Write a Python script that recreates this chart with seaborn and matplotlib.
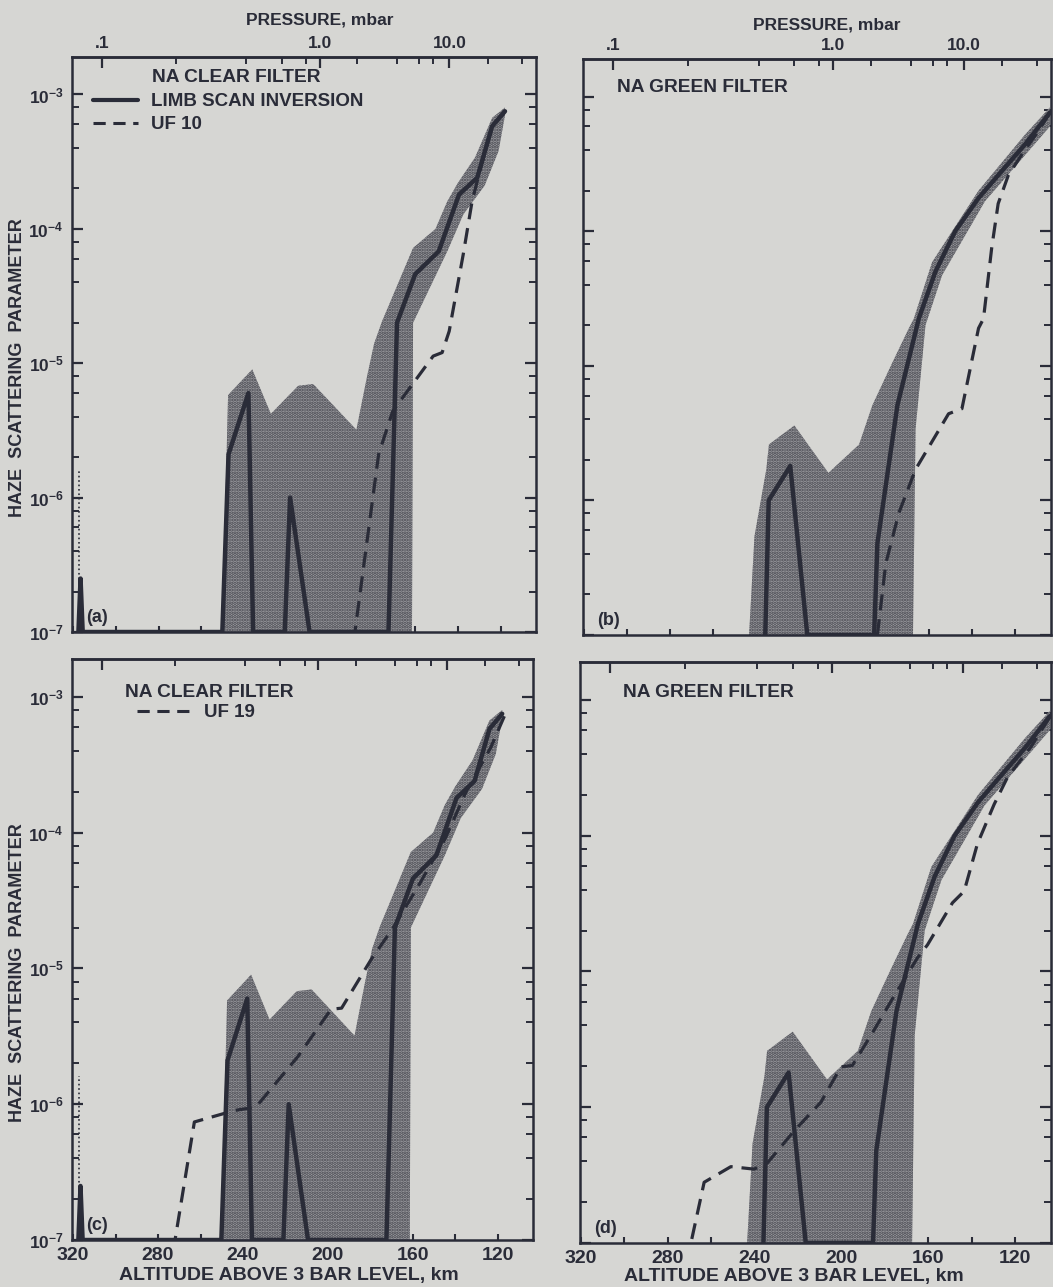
import matplotlib
matplotlib.use('Agg')
import matplotlib.pyplot as plt
import matplotlib.ticker as mticker
from matplotlib.lines import Line2D
import seaborn as sns


# Values: altitude (km) vs haze scattering parameter.
# Limb scan inversion, NA clear filter (panels a and c)
clear_alt = [118, 124, 129.5, 131, 139.5, 149, 160, 168.5, 172.5, 209.4, 218.5, 221,
             235.8, 238, 247.3, 250.2, 315.5, 316.5, 317.5]
clear_val = [7.5e-4, 5.8e-4, 2.9e-4, 2.4e-4, 1.8e-4, 6.8e-5, 4.6e-5, 2.0e-5, 1e-7, 1e-7,
             1e-6, 1e-7, 1e-7, 6e-6, 2.1e-6, 1e-7, 1e-7, 2.5e-7, 1e-7]
clear_band_hi_alt = [250.3, 247.5, 236.2, 227.5, 214.7, 207.7, 187.5, 182.5, 179.2,
                     175.5, 161, 150.5, 145, 140, 132, 124, 118]
clear_band_hi_val = [1e-7, 5.8e-6, 9e-6, 4.2e-6, 6.8e-6, 7e-6, 3.2e-6, 8e-6, 1.4e-5,
                     2.05e-5, 7.2e-5, 1.0e-4, 1.6e-4, 2.2e-4, 3.4e-4, 6.7e-4, 8e-4]
clear_band_lo_alt = [118, 121, 127.5, 137.5, 145, 161, 161.5]
clear_band_lo_val = [7e-4, 3.8e-4, 2.1e-4, 1.28e-4, 6.8e-5, 2.0e-5, 1e-7]
clear_edge_alt = [317, 317]
clear_edge_val = [1e-7, 1.6e-6]

# Limb scan inversion, NA green filter (panels b and d)
green_alt = [104, 115.6, 128, 137.1, 147.9, 157.1, 164.8, 174.7, 184, 185.5, 216.5,
             224.4, 234.4, 236]
green_val = [7.6e-4, 4.4e-4, 2.6e-4, 1.76e-4, 1.0e-4, 5.0e-5, 2.24e-5, 5.1e-6, 4.8e-7,
             1e-7, 1e-7, 1.8e-6, 1.0e-6, 1e-7]
green_band_hi_alt = [243.5, 241, 235.5, 234.3, 222.5, 206.7, 192.5, 186.3, 177, 169.4,
                     167.1, 158.6, 137.1, 115.6, 104]
green_band_hi_val = [1e-7, 5.4e-7, 1.7e-6, 2.6e-6, 3.6e-6, 1.6e-6, 2.6e-6, 5.1e-6,
                     1.06e-5, 1.9e-5, 2.24e-5, 5.9e-5, 2.0e-4, 5.2e-4, 8.3e-4]
green_band_lo_alt = [104, 114.1, 134.1, 154, 161.7, 166.3, 167.5]
green_band_lo_val = [6.0e-4, 3.9e-4, 1.67e-4, 4.7e-5, 2.0e-5, 3.4e-6, 1e-7]

# Model profiles (dashed)
uf10_clear_alt = [118, 124, 129.5, 133.4, 137.5, 144.1, 147.4, 151.6, 170.5, 177.1, 188.2]
uf10_clear_val = [7.5e-4, 5.8e-4, 2.8e-4, 1.6e-4, 6.5e-5, 1.73e-5, 1.2e-5, 1.13e-5,
                  4.4e-6, 2.1e-6, 1e-7]
uf10_green_alt = [104, 109.5, 117.1, 123.3, 128.0, 131.0, 134.8, 137.1, 144.8, 151.0,
                  166.3, 174.0, 180.1, 184.0]
uf10_green_val = [7.6e-4, 5.5e-4, 3.7e-4, 2.6e-4, 1.6e-4, 7.5e-5, 2.24e-5, 1.9e-5,
                  4.8e-6, 4.4e-6, 1.7e-6, 8.1e-7, 3.4e-7, 1e-7]
uf19_clear_alt = [117, 123.5, 135.0, 144.9, 156.5, 169.7, 179.6, 193.6, 198.6, 214.2,
                  234.0, 243.9, 262.9, 272.0]
uf19_clear_val = [7.2e-4, 4.2e-4, 2.0e-4, 9.0e-5, 4.3e-5, 1.95e-5, 1.17e-5, 5.1e-6,
                  5.0e-6, 2.24e-6, 9.5e-7, 9.0e-7, 7.4e-7, 1e-7]
uf19_green_alt = [104, 112.8, 123.5, 129.7, 137.4, 143.5, 148.9, 160.4, 165.0, 176.5,
                  185.0, 195.0, 200.3, 209.5, 221.8, 234.1, 240.3, 251.0, 263.3, 269.4]
uf19_green_val = [7.5e-4, 4.5e-4, 2.7e-4, 1.7e-4, 8.7e-5, 3.9e-5, 3.2e-5, 1.57e-5,
                  1.26e-5, 6.3e-6, 3.7e-6, 2.03e-6, 1.98e-6, 1.09e-6, 6.7e-7, 3.9e-7,
                  3.5e-7, 3.65e-7, 2.8e-7, 1e-7]

# Pressure scale on top axis: pressure (mbar) and the altitude it sits at
pressure_ticks = [0.1, 0.2, 0.4, 0.6, 0.8, 1.0, 2, 4, 6, 8, 10, 20, 40]
pressure_alt = [306.5, 272, 239, 222.5, 211, 204.6, 187, 168.5, 158, 151.5, 144, 126, 110]
pressure_labels = {0.1: '.1', 1.0: '1.0', 10: '10.0'}

BG = '#d6d6d3'
INK = '#2a2c38'
SHADE = '#9d9da1'

sns.set_theme(style='ticks', rc={
    'figure.facecolor': BG, 'axes.facecolor': BG, 'savefig.facecolor': BG,
    'axes.edgecolor': INK, 'axes.linewidth': 1.8,
    'xtick.direction': 'in', 'ytick.direction': 'in',
    'xtick.color': INK, 'ytick.color': INK, 'text.color': INK,
    'axes.labelcolor': INK, 'axes.labelweight': 'bold',
    'hatch.linewidth': 1.7, 'mathtext.default': 'regular',
})
plt.rcParams['font.family'] = ['Liberation Sans', 'DejaVu Sans']
plt.rcParams['font.weight'] = 'bold'

W, H = 1053, 1287


def box(x0, y0, x1, y1):
    return [x0 / W, 1 - y1 / H, (x1 - x0) / W, (y1 - y0) / H]


def draw_panel(ax, solid, band, dash, letter, bottom_labels, left_labels, top_labels):
    ax.set_yscale('log')
    ax.set_ylim(1e-7, 1.9e-3)
    ax.set_xlim(320.5, 103.5)

    # stippled uncertainty band
    hi_a, hi_v, lo_a, lo_v = band
    ax.fill(hi_a + lo_a, hi_v + lo_v, facecolor=SHADE, edgecolor='#45464e',
            hatch='.....', linewidth=0, zorder=1)

    sns.lineplot(x=solid[0], y=solid[1], ax=ax, color=INK, lw=3.2, sort=False,
                 estimator=None, zorder=3)
    sns.lineplot(x=dash[0], y=dash[1], ax=ax, color=INK, lw=2.3, sort=False,
                 estimator=None, linestyle=(0, (5, 2.8)), zorder=3)

    # ticks
    ax.xaxis.set_major_locator(mticker.MultipleLocator(40))
    ax.xaxis.set_minor_locator(mticker.MultipleLocator(20))
    ax.xaxis.set_major_formatter(mticker.FormatStrFormatter('%d'))
    ax.yaxis.set_major_locator(mticker.LogLocator(base=10, numticks=10))
    ax.yaxis.set_minor_locator(mticker.LogLocator(base=10, subs=(2, 4, 6, 8), numticks=10))
    ax.yaxis.set_minor_formatter(mticker.NullFormatter())
    ax.tick_params(axis='x', which='both', length=4.5, width=1.5, top=False,
                   labelbottom=bottom_labels, labelsize=14, pad=5)
    ax.tick_params(axis='y', which='major', length=8, width=1.6, right=True,
                   labelleft=left_labels, labelsize=12.5, pad=6)
    ax.tick_params(axis='y', which='minor', length=5, width=1.4, right=True)

    sec = ax.secondary_xaxis('top')
    major = [a for p, a in zip(pressure_ticks, pressure_alt) if p in pressure_labels]
    minor = [a for p, a in zip(pressure_ticks, pressure_alt) if p not in pressure_labels]
    sec.set_xticks(major, [pressure_labels[p] for p in pressure_ticks if p in pressure_labels])
    sec.set_xticks(minor, minor=True)
    sec.tick_params(which='major', direction='in', length=8, width=1.6,
                    labeltop=top_labels, labelsize=12.5, pad=4)
    sec.tick_params(which='minor', direction='in', length=5, width=1.4)
    if not top_labels:
        sec.set_xticklabels([])

    ax.set_xlabel('')
    ax.set_ylabel('')
    ax.text(0.03, 0.025, letter, transform=ax.transAxes, fontsize=13, ha='left',
            va='center', fontweight='bold')


fig = plt.figure(figsize=(W / 100, H / 100), dpi=100)
ax_a = fig.add_axes(box(72, 57, 536, 632))
ax_b = fig.add_axes(box(583, 59, 1051, 635))
ax_c = fig.add_axes(box(72, 659, 533, 1240))
ax_d = fig.add_axes(box(580, 662, 1051, 1243))

clear_solid = (clear_alt, clear_val)
green_solid = (green_alt, green_val)
clear_band = (clear_band_hi_alt, clear_band_hi_val, clear_band_lo_alt, clear_band_lo_val)
green_band = (green_band_hi_alt, green_band_hi_val, green_band_lo_alt, green_band_lo_val)

draw_panel(ax_a, clear_solid, clear_band, (uf10_clear_alt, uf10_clear_val), '(a)',
           False, True, True)
draw_panel(ax_b, green_solid, green_band, (uf10_green_alt, uf10_green_val), '(b)',
           False, False, True)
draw_panel(ax_c, clear_solid, clear_band, (uf19_clear_alt, uf19_clear_val), '(c)',
           True, True, False)
draw_panel(ax_d, green_solid, green_band, (uf19_green_alt, uf19_green_val), '(d)',
           True, False, False)

# thin dotted trace at the high-altitude edge of the clear-filter panels
for ax in (ax_a, ax_c):
    ax.plot(clear_edge_alt, clear_edge_val, color=INK, lw=1.2, ls=':', zorder=2)

# pressure axis titles
fig.text(320 / W, 1 - 20 / H, 'PRESSURE, mbar', fontsize=12.5, fontweight='bold',
         ha='center', va='center')
fig.text(827 / W, 1 - 25 / H, 'PRESSURE, mbar', fontsize=12.5, fontweight='bold',
         ha='center', va='center')

# panel captions and legends
cap = dict(fontsize=13.8, va='center', fontweight='bold')
ax_a.text(0.172, 0.965, 'NA CLEAR FILTER', transform=ax_a.transAxes, **cap)
ax_b.text(0.072, 0.95, 'NA GREEN FILTER', transform=ax_b.transAxes, **cap)
ax_c.text(0.115, 0.943, 'NA CLEAR FILTER', transform=ax_c.transAxes, **cap)
ax_d.text(0.091, 0.947, 'NA GREEN FILTER', transform=ax_d.transAxes, **cap)

ax_a.legend(
    handles=[Line2D([], [], color=INK, lw=3),
             Line2D([], [], color=INK, lw=2.2, ls=(0, (4, 2.5)))],
    labels=['LIMB SCAN INVERSION', 'UF 10'],
    loc='upper left', bbox_to_anchor=(0.045, 0.937), frameon=False,
    prop={'size': 13.5, 'weight': 'bold'},
    handlelength=2.4, handletextpad=0.7, labelspacing=0.3, borderpad=0, borderaxespad=0)
ax_c.legend(
    handles=[Line2D([], [], color=INK, lw=2.2, ls=(0, (4, 2.5)))],
    labels=['UF 19'], loc='upper left', bbox_to_anchor=(0.14, 0.922), frameon=False,
    prop={'size': 13.5, 'weight': 'bold'},
    handlelength=3.0, handletextpad=0.6, borderpad=0, borderaxespad=0)

# axis titles
for ax in (ax_a, ax_c):
    ax.set_ylabel('HAZE  SCATTERING  PARAMETER', fontsize=13, fontweight='bold')
    ax.yaxis.set_label_coords(-0.1, 0.46)
for ax in (ax_c, ax_d):
    ax.set_xlabel('ALTITUDE ABOVE 3 BAR LEVEL, km', fontsize=14, fontweight='bold')
ax_c.xaxis.set_label_coords(0.47, -0.046)
ax_d.xaxis.set_label_coords(0.455, -0.043)

fig.savefig('out.png', dpi=100)
